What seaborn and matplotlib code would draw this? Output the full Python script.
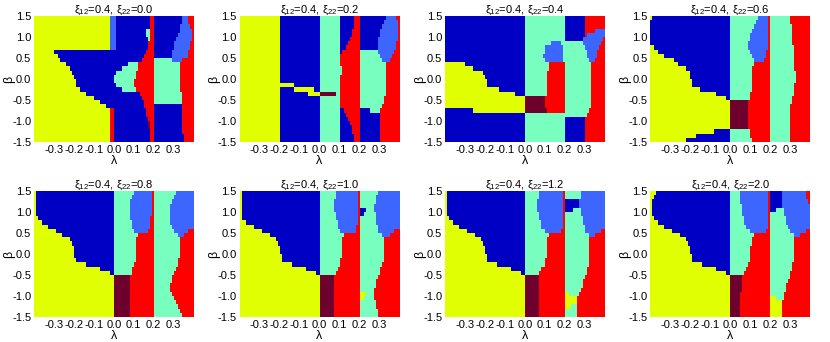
import numpy as np
import matplotlib
matplotlib.use("Agg")
import matplotlib.pyplot as plt
from matplotlib.colors import ListedColormap
import seaborn as sns

# region codes: Y yellow, B dark blue, L light blue, A aquamarine, R red, M maroon
# each row = one beta strip (top 1.5 -> bottom -1.5, step 0.1),
# tokens = region code + lambda where it starts (in units of 0.01)
xi22_values = ["0.0", "0.2", "0.4", "0.6", "0.8", "1.0", "1.2", "2.0"]

map_00 = [
    "Y-40 L-2 B1 R18 B20 L34 R37", "Y-40 L-2 B1 R18 B20 L34 R37",
    "Y-40 L-2 B1 R18 B20 L33 R38", "Y-40 L-2 B1 A16 R18 B20 L33 R39",
    "Y-40 L-2 B1 A16 R18 B20 L32 R39", "Y-40 L-2 B1 A17 R18 B20 L31 R39",
    "Y-40 L-2 B1 R17 B20 L30 R38", "Y-40 L-2 B1 R17 B20 L30 R38",
    "Y-40 B-30 R16 B20 L29 R37", "Y-40 B-28 R15 B20 L29 R37",
    "Y-40 B-27 R14 A20 L29 R34", "Y-40 B-24 A7 R12 A20 R33",
    "Y-40 B-22 A4 R12 A20 R33", "Y-40 B-21 A1 R11 A20 R33",
    "Y-40 B-20 A0 R11 A20 R33", "Y-40 B-19 A0 R10 A20 R33",
    "Y-40 B-19 A1 R10 A20 R33", "Y-40 B-17 A4 R11 A20 R33",
    "Y-40 B-14 R13 A20 R34", "Y-40 B-10 R14 A20 R34",
    "Y-40 B-7 R15 A20 R34", "Y-40 B-4 R15 B20 R34",
    "Y-40 R-2 B0 R16 B20 R34", "Y-40 R-2 B0 R16 B20 R34",
    "Y-40 R-2 B0 R17 B20 R34", "Y-40 R-2 B0 M17 R18 B20 R34",
    "Y-40 R-2 B0 M17 R18 B20 R34", "Y-40 R-2 B0 R18 B20 R34",
    "Y-40 R-2 B0 R18 B20 R35", "Y-40 R-2 B0 R18 B20 R35",
]
map_02 = [
    "Y-40 B-20 A0 B10 R17 B20 L33 R38", "Y-40 B-20 A0 B10 R17 B20 L32 R39",
    "Y-40 B-20 A0 B10 R17 B20 L31 R39", "Y-40 B-20 A0 B10 R16 B20 L30 R39",
    "Y-40 B-20 A0 B10 R16 B20 L30 R39", "Y-40 B-20 A0 B10 R15 B20 L29 R39",
    "Y-40 B-20 A0 B10 R14 B20 L29 R38", "Y-40 B-20 A0 B10 R13 B20 L29 R38",
    "Y-40 B-20 A0 B10 R11 A20 L29 R37", "Y-40 B-20 A0 R10 A20 L30 R36",
    "Y-40 B-20 A0 R10 A20 L31 R35", "Y-40 B-20 A0 R10 A20 R33",
    "Y-40 B-20 A0 R11 A20 R33", "Y-40 B-20 A0 R11 A20 R33",
    "Y-40 B-20 A0 R10 A20 R33", "Y-40 B-20 A0 R10 A20 R33",
    "Y-40 B-13 A0 R10 A20 R33", "Y-40 B-20 Y-13 B-3 A0 R10 A20 R33",
    "Y-40 B-20 Y-6 M0 A8 R10 A20 R33", "Y-40 B-20 A0 R10 A20 R32",
    "Y-40 B-20 A0 R10 A20 R32", "Y-40 B-20 A0 R10 A20 R31",
    "Y-40 B-20 A0 B10 R12 B20 A25 R30", "Y-40 B-20 A0 B10 R13 B20 R30",
    "Y-40 B-20 A0 B10 R14 B20 R30", "Y-40 B-20 A0 B10 R15 B20 R30",
    "Y-40 B-20 A0 B10 R16 B20 R30", "Y-40 B-20 A0 B10 R16 B20 R30",
    "Y-40 B-20 A0 B10 R17 B20 R30", "Y-40 B-20 A0 B10 R17 B20 R30",
]
map_04 = [
    "B-40 A0 B20 R30", "B-40 A0 B20 R30",
    "B-40 A0 B20 R30", "B-40 A0 B20 R30 L35",
    "B-40 A0 B20 R30 L31", "B-40 A0 B20 L29 R39",
    "B-40 A0 L13 A18 L29 R38", "B-40 A0 L10 A19 L30 R37",
    "B-40 A0 L10 A19 L31 R36", "B-40 A0 L9 A19 L31 R36",
    "B-40 A0 L10 A19 L32 R35", "Y-40 B-30 A0 R12 A20 R33",
    "Y-40 B-26 A0 R12 A20 R33", "Y-40 B-21 A0 R11 A20 R33",
    "Y-40 B-20 A0 R11 A20 R33", "Y-40 B-19 A0 R11 A20 R33",
    "Y-40 B-19 A0 R11 A20 R33", "Y-40 B-13 A0 R11 A20 R33",
    "Y-40 B-5 A0 R11 A20 R33", "Y-40 M0 R10 A20 R33",
    "Y-40 M0 R10 A20 R33", "Y-40 M0 R10 A20 R33",
    "B-40 Y-26 M0 R11 A20 R32", "B-40 A0 A20 R31",
    "B-40 A0 B20 R30", "B-40 A0 B20 R30",
    "B-40 A0 B20 R30", "B-40 A0 B20 R30",
    "B-40 A0 B20 R30", "B-40 A0 B20 R30",
]
map_06 = [
    "Y-40 B-39 A0 L14 R19 A20 R30", "B-40 A0 L13 R19 A20 R30",
    "B-40 A0 L12 R19 A20 R31", "B-40 A0 L11 R19 A20 R31",
    "B-40 A0 L10 R19 A20 R31", "B-40 A0 L10 R19 A20 R31",
    "B-40 A0 L9 R19 A20 R31", "Y-40 B-38 A0 L9 R19 A20 R32",
    "Y-40 B-36 A0 L10 R18 A20 R32", "Y-40 B-33 A0 L11 R18 A20 R32",
    "Y-40 B-28 A0 L12 R17 A20 R32", "Y-40 B-26 A0 R12 A20 R32",
    "Y-40 B-22 A0 R11 A20 R32", "Y-40 B-20 A0 R11 A20 R33",
    "Y-40 B-20 A0 R11 A20 R33", "Y-40 B-19 A0 R11 A20 R33",
    "Y-40 B-19 A0 R11 A20 R32", "Y-40 B-15 A0 R11 A20 R32",
    "Y-40 B-7 A0 R10 A20 R32", "Y-40 B-2 A0 R10 A20 R31",
    "Y-40 M0 R9 A20 R31", "Y-40 M0 R9 A20 R30",
    "Y-40 M0 R9 A20 R30", "Y-40 M0 R9 A20 R30",
    "Y-40 M0 R9 A20 R30", "Y-40 M0 R9 A20 R30",
    "Y-40 M0 R9 A20 R30", "Y-40 B-8 A0 R10 A20 R30",
    "Y-40 B-17 A0 R10 A20 R30", "Y-40 B-22 A0 R11 A20 R30",
]
map_08 = [
    "Y-40 B-39 A0 L10 R19 A20 L31", "Y-40 B-39 A0 L9 R19 A20 L30",
    "Y-40 B-39 A0 L8 R19 A20 L29", "Y-40 B-39 A0 L8 R19 A20 L28",
    "Y-40 B-39 A0 L8 R19 A20 L28", "Y-40 B-39 A0 L8 R19 A20 L28",
    "Y-40 B-38 A0 L8 R18 A20 L28", "Y-40 B-36 A0 L9 R18 A20 L28",
    "Y-40 B-33 A0 L9 R18 A20 L29", "Y-40 B-29 A0 L10 R17 A20 L30 R37",
    "Y-40 B-26 A0 R12 A20 L32 R35", "Y-40 B-22 A0 R11 A20 R33",
    "Y-40 B-21 A0 R11 A20 R33", "Y-40 B-20 A0 R11 A20 R33",
    "Y-40 B-20 A0 R11 A20 R33", "Y-40 B-20 A0 R11 A20 R33",
    "Y-40 B-19 A0 R11 A20 R32", "Y-40 B-14 A0 R10 A20 R32",
    "Y-40 B-7 A0 R9 A20 R31", "Y-40 B-2 A0 R9 A20 R30",
    "Y-40 M0 R8 A20 R29", "Y-40 M0 R8 A20 R29",
    "Y-40 M0 R8 A20 R28", "Y-40 M0 R8 A20 R28",
    "Y-40 M0 R8 A20 R29", "Y-40 M0 R8 A20 R30",
    "Y-40 M0 R8 A20 R31", "Y-40 M0 R8 A20 R32",
    "Y-40 M0 R8 A20 R33", "Y-40 M0 R8 A20 R34",
]
map_10 = [
    "Y-40 B-39 A0 L8 R19 A20 L29", "Y-40 B-39 A0 L8 R19 A20 L28",
    "Y-40 B-39 A0 L7 R19 A20 L28", "Y-40 B-39 A0 L7 R19 A20 L27",
    "Y-40 B-39 A0 L7 R19 B20 A23 L27", "Y-40 B-39 A0 L8 R19 B20 A22 L28",
    "Y-40 B-39 A0 L8 R19 A20 L28", "Y-40 B-37 A0 L9 R19 A20 L28",
    "Y-40 B-33 A0 L9 R18 A20 L29", "Y-40 B-29 A0 L10 R18 A20 L29 R37",
    "Y-40 B-25 A0 R12 A20 L31 R35", "Y-40 B-22 A0 R11 A20 R32",
    "Y-40 B-21 A0 R11 A20 R32", "Y-40 B-20 A0 R11 A20 R32",
    "Y-40 B-20 A0 R11 A20 R32", "Y-40 B-19 A0 R11 A20 R32",
    "Y-40 B-19 A0 R10 A20 R32", "Y-40 B-14 A0 R10 A20 R31",
    "Y-40 B-7 A0 R9 A20 R30", "Y-40 B-2 A0 R8 A20 R30",
    "Y-40 M0 R7 A20 R29", "Y-40 M0 R7 A20 R28",
    "Y-40 M0 R7 A20 R28", "Y-40 M0 R7 A20 R27",
    "Y-40 M0 R7 Y20 A23 R27", "Y-40 M0 R7 Y20 A22 R27",
    "Y-40 M0 R7 A20 R28", "Y-40 M0 R7 A20 R28",
    "Y-40 M0 R7 A20 R29", "Y-40 M0 R7 A20 R29",
]
map_12 = [
    "Y-40 B-39 A0 L7 R19 A20 L28", "Y-40 B-39 A0 L7 R19 A20 L28",
    "Y-40 B-39 A0 L6 R19 B20 L27", "Y-40 B-39 A0 L6 R19 B20 L27",
    "Y-40 B-39 A0 L6 R19 B20 A24 L28", "Y-40 B-39 A0 L7 R19 A20 L28",
    "Y-40 B-38 A0 L7 R19 A20 L29", "Y-40 B-36 A0 L8 R19 A20 L29",
    "Y-40 B-33 A0 L8 R19 A20 L30", "Y-40 B-29 A0 L10 R18 A20 L30 R38",
    "Y-40 B-25 A0 R12 A20 L32 R35", "Y-40 B-22 A0 R11 A20 R32",
    "Y-40 B-21 A0 R11 A20 R32", "Y-40 B-20 A0 R11 A20 R32",
    "Y-40 B-20 A0 R11 A20 R32", "Y-40 B-19 A0 R11 A20 R32",
    "Y-40 B-19 A0 R10 A20 R32", "Y-40 B-14 A0 R10 A20 R32",
    "Y-40 B-7 A0 R8 A20 R31", "Y-40 B-2 A0 R7 A20 R31",
    "Y-40 M0 R7 A20 R30", "Y-40 M0 R7 A20 R29",
    "Y-40 M0 R7 A20 R29", "Y-40 M0 R7 A20 R28",
    "Y-40 M0 R7 Y20 A22 R27", "Y-40 M0 R7 Y20 R26",
    "Y-40 M0 R7 Y20 R26", "Y-40 M0 R7 Y20 A23 R26",
    "Y-40 M0 R7 A20 R26", "Y-40 M0 R7 A20 R26",
]
map_20 = [
    "Y-40 B-37 A0 L5 R19 B20 L26 R38", "Y-40 B-38 A0 L5 R19 B20 L26 R38",
    "Y-40 B-39 A0 L5 R19 B20 L26 R39", "Y-40 B-39 A0 L6 R19 B20 L26",
    "Y-40 B-39 A0 L6 R19 B20 A23 L27", "Y-40 B-39 A0 L6 R19 A20 L27",
    "Y-40 B-38 A0 L7 R19 A20 L28", "Y-40 B-36 A0 L7 R19 A20 L28",
    "Y-40 B-33 A0 L8 R19 A20 L29", "Y-40 B-29 A0 L10 R18 A20 L30 R38",
    "Y-40 B-25 A0 R12 A20 L32 R35", "Y-40 B-22 A0 R11 A20 R32",
    "Y-40 B-21 A0 R11 A20 R32", "Y-40 B-20 A0 R10 A20 R32",
    "Y-40 B-20 A0 R10 A20 R32", "Y-40 B-19 A0 R10 A20 R32",
    "Y-40 B-19 A0 R10 A20 R32", "Y-40 B-14 A0 R9 A20 R31",
    "Y-40 B-7 A0 R8 A20 R31", "Y-40 B-2 A0 R7 A20 R30",
    "Y-40 M0 R6 A20 R30", "Y-40 M0 R6 A20 R29",
    "Y-40 M0 R6 A20 R28", "Y-40 M0 R6 A20 R28",
    "Y-40 M0 R5 A20 R27", "Y-40 M0 R5 Y20 A23 R27",
    "Y-40 M0 R5 Y20 R26", "Y-40 M0 R5 Y20 R26",
    "Y-40 M0 R5 Y20 R26", "Y-40 M0 R5 Y20 R26",
]
panel_maps = [map_00, map_02, map_04, map_06, map_08, map_10, map_12, map_20]

region_codes = "YBLARM"
region_colors = ["#e0ff00", "#0000c4", "#3c66ff", "#78ffc0", "#ff0000", "#6e002d"]

x_ticks = [-0.3, -0.2, -0.1, 0.0, 0.1, 0.2, 0.3]
y_ticks = [-1.5, -1.0, -0.5, 0.0, 0.5, 1.0, 1.5]

sns.set_theme(style="white")
plt.rcParams["font.family"] = ["Liberation Sans", "DejaVu Sans"]
plt.rcParams["mathtext.fontset"] = "custom"
plt.rcParams["mathtext.rm"] = "Liberation Sans"
plt.rcParams["mathtext.it"] = "Liberation Sans"
plt.rcParams["axes.unicode_minus"] = False
plt.rcParams["text.color"] = "black"
plt.rcParams["axes.labelcolor"] = "black"
plt.rcParams["xtick.color"] = "black"
plt.rcParams["ytick.color"] = "black"

lam = np.linspace(-0.4, 0.4, 641)
lam = (lam[:-1] + lam[1:]) / 2
cmap = ListedColormap(region_colors)


def decode(rows):
    grid = np.zeros((len(rows), lam.size))
    for i, row in enumerate(rows):
        toks = row.split()
        starts = np.array([int(t[1:]) for t in toks]) / 100
        vals = np.array([region_codes.index(t[0]) for t in toks])
        idx = np.searchsorted(starts, lam, side="right") - 1
        grid[i] = vals[np.clip(idx, 0, None)]
    return grid


fig, axes = plt.subplots(2, 4, figsize=(8.3, 3.42), dpi=100)
fig.subplots_adjust(left=0.041, right=0.976, bottom=0.073, top=0.953,
                    wspace=0.2875, hspace=0.389)

for ax, rows, xi in zip(axes.flat, panel_maps, xi22_values):
    ax.imshow(decode(rows), cmap=cmap, vmin=-0.5, vmax=5.5, aspect="auto",
              interpolation="nearest", extent=[-0.4, 0.4, -1.5, 1.5])
    ax.set_xlim(-0.4, 0.4)
    ax.set_ylim(-1.5, 1.5)
    ax.set_xticks(x_ticks)
    ax.set_xticklabels([f"{v:.1f}" for v in x_ticks], fontsize=8)
    ax.set_yticks(y_ticks)
    ax.set_yticklabels([f"{v:.1f}" for v in y_ticks], fontsize=8)
    ax.tick_params(length=0, pad=2)
    for s in ax.spines.values():
        s.set_visible(False)
    ax.set_xlabel("λ", fontsize=9, labelpad=0)
    ax.set_ylabel("β", fontsize=9)
    ax.yaxis.set_label_coords(-0.12, 0.5)
    ax.set_title(r"$\xi_{12}$=0.4, $\xi_{22}$=" + xi, fontsize=8, pad=2)

fig.savefig("out.png", dpi=100)
